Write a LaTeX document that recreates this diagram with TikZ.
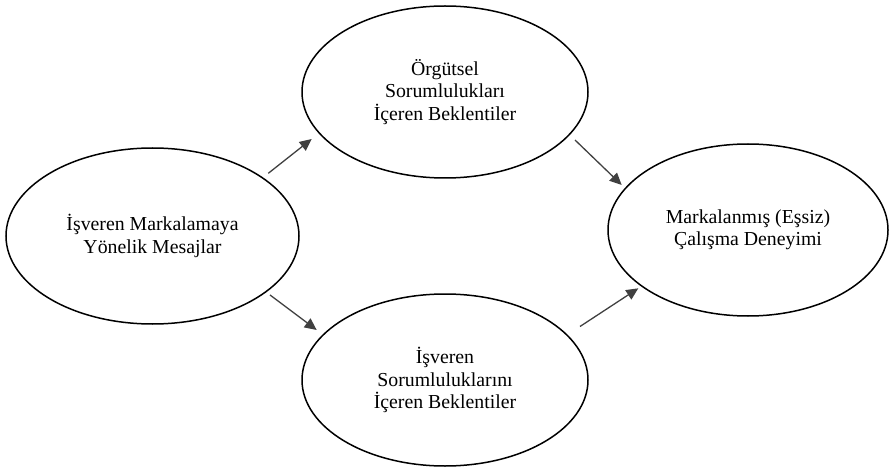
\documentclass[tikz,border=0pt]{standalone}
\usepackage{fontspec}
\setmainfont{Liberation Serif}
\usetikzlibrary{shapes.geometric,arrows.meta,calc}
\definecolor{arrowgray}{RGB}{64,64,64}
\tikzset{
  oval/.style={ellipse, draw=black, line width=1.5pt, minimum width=293pt, minimum height=176pt, inner sep=0pt, align=center, font=\fontsize{19.8pt}{22.5pt}\selectfont},
  ovalmid/.style={oval, minimum width=286pt, minimum height=172pt},
  ovalright/.style={oval, minimum width=280pt, minimum height=172pt},
  arr/.style={draw=arrowgray, line width=1.3pt, -{Triangle[length=12pt,width=11pt,fill=arrowgray]}}
}
\begin{document}
\begin{tikzpicture}[x=1pt,y=1pt]
\useasboundingbox (0,0) rectangle (894,472);
\node[oval] (L) at (152.5,236) {İşveren Markalamaya\\Yönelik Mesajlar};
\node[ovalmid] (T) at (445,380) {Örgütsel\\Sorumlulukları\\İçeren Beklentiler};
\node[ovalmid] (B) at (445,92) {İşveren\\Sorumluluklarını\\İçeren Beklentiler};
\node[ovalright] (R) at (748,242) {Markalanmış (Eşsiz)\\Çalışma Deneyimi};
\draw[arr] ($(L.center)+(115.8,62.7)$) -- ($(T.center)+(-133.3,-47)$);
\draw[arr] ($(T.center)+(130,-48)$) -- ($(R.center)+(-126.3,45)$);
\draw[arr] ($(L.center)+(117.5,-59)$) -- ($(B.center)+(-128.3,50)$);
\draw[arr] ($(B.center)+(135,53.5)$) -- ($(R.center)+(-109.7,-58.3)$);
\end{tikzpicture}
\end{document}
